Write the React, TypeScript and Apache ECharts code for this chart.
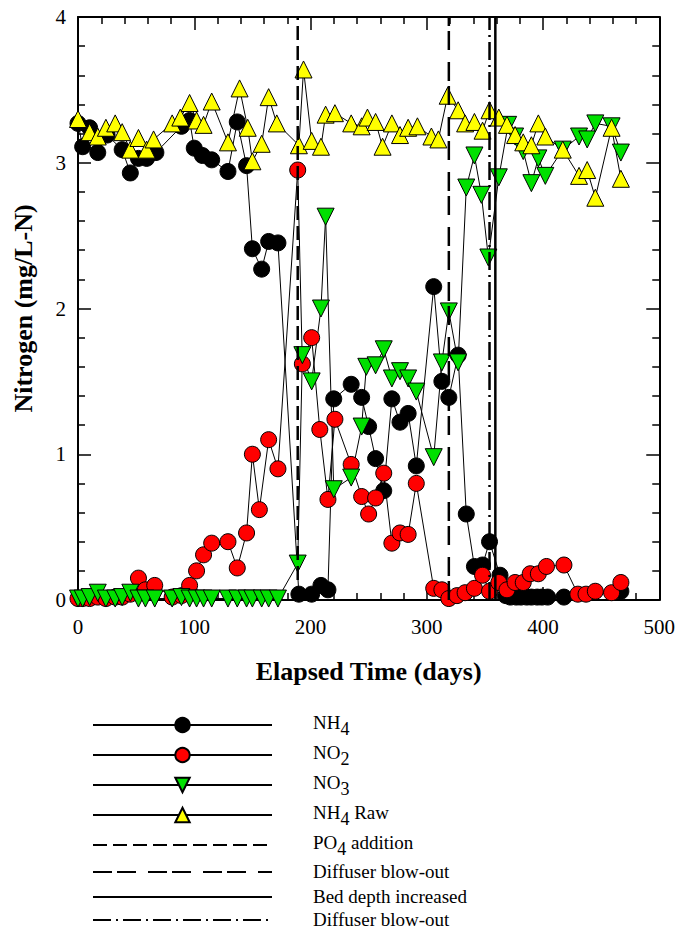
import React, { useEffect, useRef } from "react";
import * as echarts from "echarts";

// ---- data ----
const nh4Days = [0, 4, 10, 17, 25, 38, 45, 52, 59, 67, 89, 96, 100, 107, 115, 129, 137, 145, 150, 158, 164, 172, 190, 201, 209, 215, 220, 235, 244, 250, 256, 263, 270, 277, 284, 291, 306, 313, 319, 327, 334, 341, 348, 354, 363, 368, 372, 377, 381, 386, 390, 395, 399, 404, 418, 467];
const nh4Values = [3.27, 3.11, 3.24, 3.07, 3.19, 3.09, 2.93, 3.03, 3.03, 3.07, 3.25, 3.29, 3.1, 3.05, 3.02, 2.94, 3.28, 2.98, 2.41, 2.27, 2.46, 2.45, 0.04, 0.04, 0.1, 0.07, 1.38, 1.48, 1.39, 1.19, 0.97, 0.75, 1.38, 1.22, 1.28, 0.92, 2.15, 1.5, 1.39, 1.68, 0.59, 0.23, 0.24, 0.4, 0.17, 0.03, 0.02, 0.02, 0.02, 0.02, 0.02, 0.02, 0.02, 0.02, 0.02, 0.06];

const no2Days = [0, 4, 10, 17, 24, 32, 38, 45, 52, 58, 66, 81, 89, 96, 102, 108, 115, 129, 137, 145, 150, 156, 164, 172, 189, 193, 201, 208, 215, 221, 235, 244, 250, 256, 263, 270, 277, 284, 291, 306, 313, 319, 326, 333, 341, 348, 354, 362, 369, 376, 383, 389, 396, 403, 418, 430, 437, 445, 459, 467];
const no2Values = [0.01, 0.01, 0.01, 0.02, 0.01, 0.02, 0.02, 0.04, 0.15, 0.07, 0.1, 0.02, 0.03, 0.1, 0.2, 0.31, 0.39, 0.4, 0.22, 0.46, 1.0, 0.62, 1.1, 0.9, 2.95, 1.62, 1.8, 1.17, 0.69, 1.24, 0.93, 0.71, 0.59, 0.7, 0.87, 0.39, 0.46, 0.45, 0.8, 0.08, 0.07, 0.01, 0.03, 0.05, 0.08, 0.17, 0.06, 0.12, 0.07, 0.12, 0.12, 0.18, 0.18, 0.23, 0.24, 0.04, 0.04, 0.06, 0.05, 0.12];

const no3Days = [0, 4, 10, 17, 24, 32, 38, 45, 52, 58, 66, 81, 89, 96, 102, 108, 115, 129, 137, 145, 150, 158, 164, 172, 189, 193, 201, 209, 213, 220, 235, 244, 248, 256, 263, 270, 277, 284, 291, 306, 313, 319, 327, 334, 341, 347, 353, 362, 370, 376, 383, 390, 396, 402, 417, 431, 438, 445, 459, 467];
const no3Values = [0.01, 0.01, 0.02, 0.05, 0.01, 0.01, 0.02, 0.05, 0.01, 0.01, 0.01, 0.01, 0.02, 0.01, 0.01, 0.01, 0.01, 0.01, 0.01, 0.01, 0.01, 0.01, 0.01, 0.01, 0.25, 1.68, 1.5, 2.0, 2.63, 0.76, 0.84, 1.19, 1.6, 1.61, 1.72, 1.52, 1.57, 1.52, 1.43, 0.98, 1.63, 1.98, 1.63, 2.83, 3.05, 2.78, 2.35, 2.9, 3.26, 3.18, 3.08, 2.86, 3.03, 2.91, 3.09, 3.18, 3.16, 3.27, 3.25, 3.07];

const rawDays = [0, 10, 17, 24, 32, 38, 45, 52, 59, 65, 81, 88, 96, 102, 108, 115, 129, 139, 146, 150, 158, 164, 171, 190, 194, 201, 209, 213, 221, 235, 244, 249, 256, 262, 270, 277, 284, 292, 304, 310, 318, 327, 333, 341, 348, 354, 362, 369, 376, 383, 390, 396, 402, 417, 431, 438, 445, 459, 467];
const rawValues = [3.3, 3.21, 3.18, 3.24, 3.27, 3.21, 3.09, 3.17, 3.09, 3.16, 3.27, 3.31, 3.41, 3.29, 3.26, 3.42, 3.14, 3.51, 3.24, 3.01, 3.13, 3.45, 3.27, 3.12, 3.64, 3.15, 3.11, 3.33, 3.34, 3.27, 3.25, 3.31, 3.28, 3.11, 3.27, 3.19, 3.24, 3.25, 3.18, 3.16, 3.46, 3.36, 3.27, 3.28, 3.22, 3.36, 3.31, 3.26, 3.19, 3.14, 3.12, 3.27, 3.18, 3.09, 2.91, 2.95, 2.76, 3.24, 2.89];

const eventNames = ["PO4 addition", "Diffuser blow-out", "Bed depth increased", "Diffuser blow-out "];
const eventDays = [189, 319, 359, 354];

const xMin = 0, xMax = 500, xStep = 100;
const yMin = 0, yMax = 4, yStep = 1;

const FONT = "'Liberation Serif', 'Times New Roman', serif";

const pairs = (d: number[], v: number[]) => d.map((x, i) => [x, v[i]]);

const markerSeries = (name: string, days: number[], vals: number[], symbol: string, color: string, rotate = 0) => ({
  type: "line",
  name,
  data: pairs(days, vals),
  symbol,
  symbolSize: symbol === "circle" ? 16 : 17,
  symbolRotate: rotate,
  lineStyle: { color: "#000", width: 1 },
  itemStyle: { color, borderColor: "#000", borderWidth: 1 },
  emphasis: { disabled: true },
  z: 3,
});

const eventStyles: any[] = [
  { type: [14, 6], width: 2.5 },
  { type: [19, 5, 19, 12], width: 2.5 },
  { type: "solid", width: 2.5 },
  { type: [18, 5, 2, 5], width: 2.5 },
];

const eventSeries = eventNames.map((name, i) => ({
  type: "line",
  name,
  data: [
    [eventDays[i], yMin],
    [eventDays[i], yMax],
  ],
  symbol: "none",
  lineStyle: { color: "#000", ...eventStyles[i] },
  itemStyle: { color: "rgba(0,0,0,0)", borderWidth: 0 },
  emphasis: { disabled: true },
  z: 4,
}));

const labelFor: Record<string, string> = {
  NH4: "{f|NH}{s|4}",
  NO2: "{f|NO}{s|2}",
  NO3: "{f|NO}{s|3}",
  "NH4 Raw": "{f|NH}{s|4}{n| Raw}",
  "PO4 addition": "{f|PO}{s|4}{n| addition}",
  "Diffuser blow-out": "{f|Diffuser blow-out}",
  "Bed depth increased": "{f|Bed depth increased}",
  "Diffuser blow-out ": "{f|Diffuser blow-out}",
};

const legendRows = [
  { name: "NH4", center: 725, sub: true },
  { name: "NO2", center: 755, sub: true },
  { name: "NO3", center: 785, sub: true },
  { name: "NH4 Raw", center: 815, sub: true },
  { name: "PO4 addition", center: 845, sub: true },
  { name: "Diffuser blow-out", center: 872, sub: false },
  { name: "Bed depth increased", center: 897, sub: false },
  { name: "Diffuser blow-out ", center: 920, sub: false },
];

const rich = {
  f: { fontFamily: FONT, fontSize: 19, color: "#000", lineHeight: 20, verticalAlign: "top", padding: [0, 0, 0, 36] },
  n: { fontFamily: FONT, fontSize: 19, color: "#000", lineHeight: 20, verticalAlign: "top" },
  s: { fontFamily: FONT, fontSize: 18, color: "#000", lineHeight: 25, verticalAlign: "bottom" },
};

const tickStyle = { color: "#000", width: 1.5 };

const makeX = (pos: "bottom" | "top") => ({
  type: "value",
  position: pos,
  min: xMin,
  max: xMax,
  interval: xStep,
  axisLine: { onZero: false, lineStyle: { color: "#000", width: 2 } },
  axisTick: { inside: true, length: 13, lineStyle: tickStyle },
  minorTick: { show: true, splitNumber: 5, length: 7, lineStyle: tickStyle },
  splitLine: { show: false },
  axisLabel: pos === "bottom" ? { fontFamily: FONT, fontSize: 21, color: "#000", margin: 16 } : { show: false },
  ...(pos === "bottom"
    ? {
        name: "Elapsed Time (days)",
        nameLocation: "middle",
        nameGap: 58,
        nameTextStyle: { fontFamily: FONT, fontSize: 26, fontWeight: "bold", color: "#000" },
      }
    : {}),
});

const makeY = (pos: "left" | "right") => ({
  type: "value",
  position: pos,
  min: yMin,
  max: yMax,
  interval: yStep,
  axisLine: { onZero: false, lineStyle: { color: "#000", width: 2 } },
  axisTick: { inside: true, length: 13, lineStyle: tickStyle },
  minorTick: { show: true, splitNumber: 5, length: 7, lineStyle: tickStyle },
  splitLine: { show: false },
  axisLabel: pos === "left" ? { fontFamily: FONT, fontSize: 21, color: "#000", margin: 12 } : { show: false },
  ...(pos === "left"
    ? {
        name: "Nitrogen (mg/L-N)",
        nameLocation: "middle",
        nameGap: 42,
        nameTextStyle: { fontFamily: FONT, fontSize: 26, fontWeight: "bold", color: "#000" },
      }
    : {}),
});

export default function App() {
  const ref = useRef<HTMLDivElement>(null);
  useEffect(() => {
    if (!ref.current) return;
    const chart = echarts.init(ref.current, null, { renderer: "svg" });
    const legends = legendRows.map((r) => ({
      data: [
        eventNames.includes(r.name)
          ? { name: r.name, itemStyle: { opacity: 0 } }
          : { name: r.name },
      ],
      left: 92,
      top: r.center - (r.sub ? 12.5 : 10),
      orient: "vertical",
      itemWidth: 179,
      itemHeight: 18,
      itemGap: 0,
      padding: 0,
      selectedMode: false,
      formatter: (name: string) => labelFor[name] || name,
      textStyle: { fontFamily: FONT, fontSize: 19, color: "#000", rich },
    }));
    chart.setOption({
      animation: false,
      backgroundColor: "#fff",
      textStyle: { fontFamily: FONT },
      grid: { left: 78, right: 17, top: 17, bottom: 333, containLabel: false },
      xAxis: [makeX("bottom"), makeX("top")],
      yAxis: [makeY("left"), makeY("right")],
      legend: legends,
      series: [
        markerSeries("NH4", nh4Days, nh4Values, "circle", "#000000"),
        markerSeries("NO2", no2Days, no2Values, "circle", "#ff0000"),
        markerSeries("NO3", no3Days, no3Values, "triangle", "#00e000", 180),
        markerSeries("NH4 Raw", rawDays, rawValues, "triangle", "#ffff00"),
        ...eventSeries,
      ],
    });
    return () => chart.dispose();
  }, []);
  return <div ref={ref} style={{ position: "fixed", left: 0, top: 0, width: 678, height: 933 }} />;
}
